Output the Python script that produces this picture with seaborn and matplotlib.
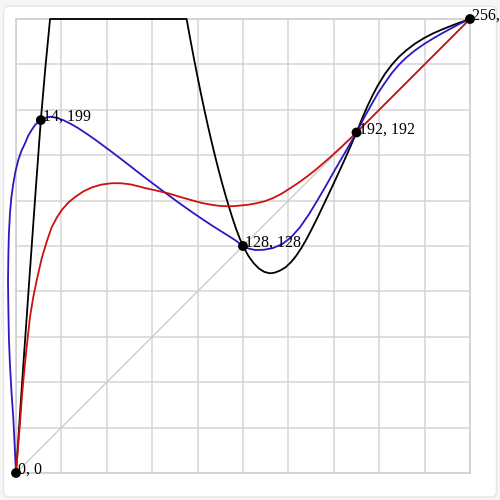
import numpy as np
import pandas as pd
import matplotlib
matplotlib.use('Agg')
import matplotlib.pyplot as plt
from matplotlib.patches import FancyBboxPatch
import seaborn as sns

# control points
pt_x = [0, 14, 128, 192, 256]
pt_y = [0, 199, 128, 192, 256]
pt_labels = ['0, 0', '14, 199', '128, 128', '192, 192', '256, 256']

# black curve (clipped at the top edge)
black_x = [0, 4, 8, 11, 14, 16.5, 19.2, 96.2, 98.2, 100.2, 102.2, 104.2, 106.2, 108.2,
           110.2, 112.2, 114.2, 116.2, 118.2, 120.2, 122.2, 124.2, 126.2, 128, 131, 134,
           137, 140, 143.2, 146, 149, 152, 155, 158, 161, 164, 167, 170, 173, 176, 179,
           182, 185, 188, 192, 195, 198, 201, 204, 208, 212, 216, 220, 225, 230, 235,
           240, 245, 250, 256]
black_y = [0, 59, 116, 158, 199, 228, 256, 256, 245.0, 234.4, 224.2, 214.3, 204.9, 195.8,
           187.2, 178.9, 171.0, 163.5, 156.4, 149.7, 143.3, 137.4, 132.2, 128, 122.5,
           118.3, 115.3, 113.4, 112.6, 113, 114.2, 116, 118.8, 122.5, 127, 132.2, 138,
           144, 150.3, 156.6, 163, 169.5, 176, 182.8, 192, 199.5, 206.5, 212.8, 218.5,
           225, 230.3, 234.7, 238.3, 242.1, 245.2, 247.8, 250, 252, 253.9, 256]

# blue curve (parametric, runs a little left of x = 0)
blue_x = [0, -1.5, -2.5, -3.4, -4, -4.3, -4.5, -4.3, -4, -3.4, -2.6, -1.5, -0.2, 1.3, 3,
          5.1, 6.8, 8.8, 11, 14, 16.5, 19.5, 23, 27, 31, 35, 40, 45, 50, 55, 60, 65, 70,
          75, 80, 85, 90, 95, 100, 105, 110, 115, 120, 124, 128, 131, 135, 140, 145, 150,
          155, 160, 165, 170, 175, 180, 185, 188, 192, 196, 200, 204, 208, 212, 216, 220,
          225, 230, 235, 240, 245, 250, 256]
blue_y = [0, 30.8, 45, 60.9, 76, 92, 108, 123, 135, 146.4, 155.5, 163.4, 170.5, 176.5,
          181.5, 185.9, 190, 193.4, 196.6, 199, 200.3, 200.9, 200.3, 198.8, 196.8, 194.5,
          191.2, 187.7, 184, 180.3, 176.5, 172.6, 168.7, 164.9, 161.1, 157.4, 153.7, 150.1,
          146.6, 143.2, 139.9, 136.7, 133.6, 131, 128, 126.6, 125.7, 125.9, 126.9, 129,
          132.8, 138.4, 145.6, 153.8, 162.4, 171.2, 179.8, 185, 192, 199.8, 207, 214, 220,
          225.6, 230.3, 234.2, 238.3, 241.8, 244.9, 247.8, 250.5, 253.2, 256]

# red curve
red_x = [0, 1.2, 2.4, 3.5, 4.6, 5.8, 7.9, 9.7, 11.7, 14.5, 17.5, 20.1, 23, 25.8, 29.5,
         33.3, 38, 42.7, 48, 54, 59, 64.3, 68.5, 72.7, 79, 85.9, 92.5, 99.1, 104.7, 110.4,
         115, 119.7, 123, 126.3, 131, 135.7, 140.4, 145.1, 149.8, 154.5, 159.2, 163.9,
         168.6, 173.3, 178, 182.7, 187.3, 192, 256]
red_y = [0, 15, 30, 45, 57, 69, 88, 99, 108.8, 121, 131, 138.5, 144, 148.3, 152.5, 155.6,
         158.8, 161, 162.6, 163.4, 163.4, 162.8, 161.8, 160.7, 159.3, 157.7, 155.7, 153.8,
         152.3, 151.2, 150.6, 150.4, 150.5, 150.8, 151.3, 152.1, 153.3, 155.1, 157.5, 160.5,
         163.6, 167, 170.7, 174.7, 178.8, 183.1, 187.5, 192, 256]

sns.set_style('white')
plt.rcParams['font.family'] = ['Liberation Serif', 'DejaVu Serif']

fig = plt.figure(figsize=(5, 5), dpi=100, facecolor='#f6f6f6')
fig.patches.append(FancyBboxPatch((0.007, 0.006), 0.986, 0.982, boxstyle='round,pad=0,rounding_size=0.012',
                                  transform=fig.transFigure, facecolor='white',
                                  edgecolor='#e6e6e6', linewidth=1, zorder=-10))
ax = fig.add_axes([0.032, 0.054, 0.908, 0.908])
ax.set_facecolor('none')

ticks = np.arange(0, 256.1, 25.6)
ax.set_xticks(ticks)
ax.set_yticks(ticks)
ax.set_xticklabels([])
ax.set_yticklabels([])
ax.tick_params(length=0)
ax.grid(True, color='#d4d4d4', linewidth=1.1)
for s in ax.spines.values():
    s.set_color('#cfcfcf')
    s.set_linewidth(1.2)

ax.plot([0, 256], [0, 256], color='#cccccc', linewidth=1.0, zorder=1)

curves = [(black_x, black_y, '#000000'), (blue_x, blue_y, '#2a18c4'), (red_x, red_y, '#d01010')]
for cx, cy, col in curves:
    df = pd.DataFrame({'x': cx, 'y': cy})
    sns.lineplot(data=df, x='x', y='y', sort=False, estimator=None, color=col,
                 linewidth=1.3, ax=ax, zorder=3, clip_on=False)

pts = pd.DataFrame({'x': pt_x, 'y': pt_y})
sns.scatterplot(data=pts, x='x', y='y', color='black', s=50, edgecolor='none',
                ax=ax, zorder=5, clip_on=False)
for x, y, lab in zip(pt_x, pt_y, pt_labels):
    ax.annotate(lab, (x, y), xytext=(1.5, -0.5), textcoords='offset points',
                ha='left', va='baseline', fontsize=11.5, color='black',
                annotation_clip=False, zorder=6)

ax.set_xlim(0, 256)
ax.set_ylim(0, 256)
ax.set_xlabel('')
ax.set_ylabel('')

fig.savefig('out.png', dpi=100, facecolor=fig.get_facecolor())
